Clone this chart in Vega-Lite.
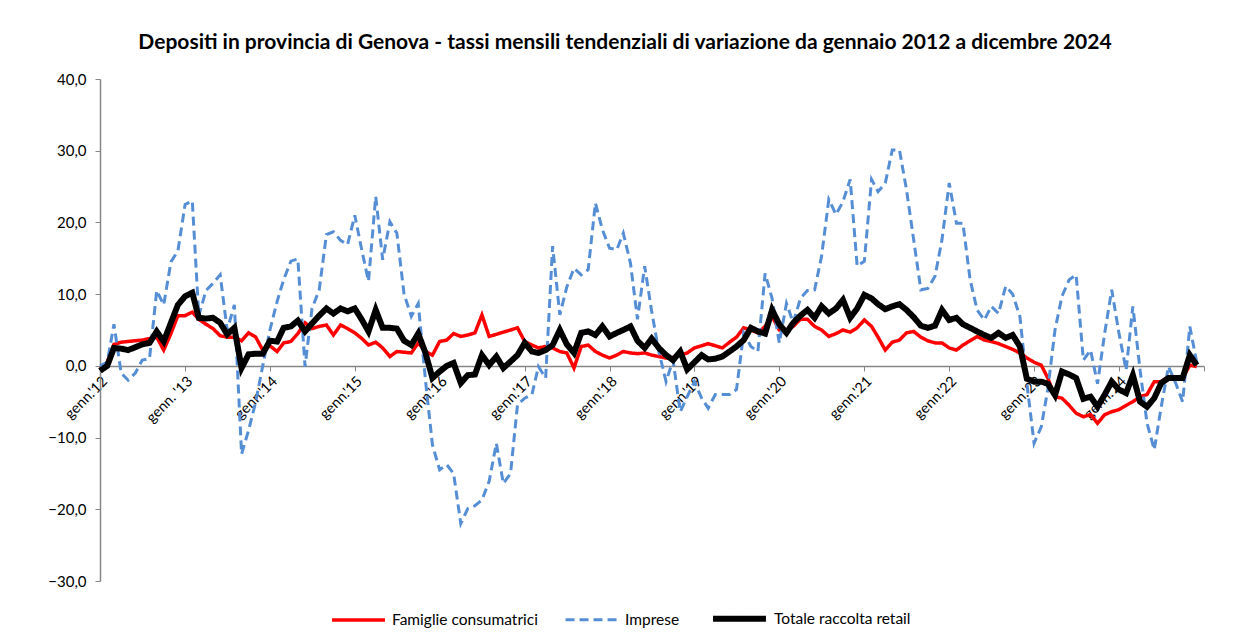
{
"$schema":"https://vega.github.io/schema/vega-lite/v6.json",
"width":1104,"height":502,
"autosize":{"type":"none"},
"padding":{"left":100,"top":79,"right":30,"bottom":61},
"background":"white",
"config":{"view":{"stroke":null},"font":"Lato"},
"title":{"text":"Depositi in provincia di Genova - tassi mensili tendenziali di variazione da gennaio 2012  a dicembre 2024","font":"Lato","fontSize":21,"fontWeight":"bold","color":"#000000","anchor":"middle","dx":-27,"offset":19},
"data":{"values":[
{"d":"2012-01-01","Famiglie consumatrici":-0.5,"Imprese":0.0,"Totale raccolta retail":-0.7},
{"d":"2012-02-01","Famiglie consumatrici":0.5,"Imprese":0.5,"Totale raccolta retail":0.0},
{"d":"2012-03-01","Famiglie consumatrici":3.0,"Imprese":5.8,"Totale raccolta retail":2.5},
{"d":"2012-04-01","Famiglie consumatrici":3.3,"Imprese":-1.0,"Totale raccolta retail":2.4},
{"d":"2012-05-01","Famiglie consumatrici":3.4,"Imprese":-2.0,"Totale raccolta retail":2.2},
{"d":"2012-06-01","Famiglie consumatrici":3.5,"Imprese":-1.0,"Totale raccolta retail":2.6},
{"d":"2012-07-01","Famiglie consumatrici":3.6,"Imprese":0.8,"Totale raccolta retail":3.0},
{"d":"2012-08-01","Famiglie consumatrici":3.8,"Imprese":1.0,"Totale raccolta retail":3.2},
{"d":"2012-09-01","Famiglie consumatrici":4.0,"Imprese":10.5,"Totale raccolta retail":4.8},
{"d":"2012-10-01","Famiglie consumatrici":2.2,"Imprese":8.5,"Totale raccolta retail":3.4},
{"d":"2012-11-01","Famiglie consumatrici":4.5,"Imprese":14.5,"Totale raccolta retail":6.0},
{"d":"2012-12-01","Famiglie consumatrici":7.0,"Imprese":16.0,"Totale raccolta retail":8.5},
{"d":"2013-01-01","Famiglie consumatrici":7.0,"Imprese":22.5,"Totale raccolta retail":9.7},
{"d":"2013-02-01","Famiglie consumatrici":7.5,"Imprese":23.0,"Totale raccolta retail":10.2},
{"d":"2013-03-01","Famiglie consumatrici":6.5,"Imprese":7.0,"Totale raccolta retail":6.7},
{"d":"2013-04-01","Famiglie consumatrici":5.8,"Imprese":10.5,"Totale raccolta retail":6.6},
{"d":"2013-05-01","Famiglie consumatrici":5.2,"Imprese":11.5,"Totale raccolta retail":6.7},
{"d":"2013-06-01","Famiglie consumatrici":4.2,"Imprese":12.7,"Totale raccolta retail":6.0},
{"d":"2013-07-01","Famiglie consumatrici":4.0,"Imprese":5.0,"Totale raccolta retail":4.4},
{"d":"2013-08-01","Famiglie consumatrici":4.0,"Imprese":8.5,"Totale raccolta retail":5.3},
{"d":"2013-09-01","Famiglie consumatrici":3.5,"Imprese":-12.3,"Totale raccolta retail":-0.3},
{"d":"2013-10-01","Famiglie consumatrici":4.6,"Imprese":-9.0,"Totale raccolta retail":1.6},
{"d":"2013-11-01","Famiglie consumatrici":4.0,"Imprese":-5.0,"Totale raccolta retail":1.7},
{"d":"2013-12-01","Famiglie consumatrici":2.2,"Imprese":0.0,"Totale raccolta retail":1.7},
{"d":"2014-01-01","Famiglie consumatrici":2.8,"Imprese":5.0,"Totale raccolta retail":3.5},
{"d":"2014-02-01","Famiglie consumatrici":2.0,"Imprese":9.0,"Totale raccolta retail":3.4},
{"d":"2014-03-01","Famiglie consumatrici":3.2,"Imprese":12.0,"Totale raccolta retail":5.3},
{"d":"2014-04-01","Famiglie consumatrici":3.4,"Imprese":14.6,"Totale raccolta retail":5.5},
{"d":"2014-05-01","Famiglie consumatrici":4.5,"Imprese":14.9,"Totale raccolta retail":6.3},
{"d":"2014-06-01","Famiglie consumatrici":6.0,"Imprese":-0.1,"Totale raccolta retail":4.8},
{"d":"2014-07-01","Famiglie consumatrici":5.2,"Imprese":8.0,"Totale raccolta retail":5.9},
{"d":"2014-08-01","Famiglie consumatrici":5.5,"Imprese":10.6,"Totale raccolta retail":7.0},
{"d":"2014-09-01","Famiglie consumatrici":5.7,"Imprese":18.3,"Totale raccolta retail":8.0},
{"d":"2014-10-01","Famiglie consumatrici":4.3,"Imprese":18.7,"Totale raccolta retail":7.3},
{"d":"2014-11-01","Famiglie consumatrici":5.7,"Imprese":17.5,"Totale raccolta retail":8.0},
{"d":"2014-12-01","Famiglie consumatrici":5.2,"Imprese":16.9,"Totale raccolta retail":7.6},
{"d":"2015-01-01","Famiglie consumatrici":4.6,"Imprese":21.0,"Totale raccolta retail":8.0},
{"d":"2015-02-01","Famiglie consumatrici":3.8,"Imprese":16.0,"Totale raccolta retail":6.4},
{"d":"2015-03-01","Famiglie consumatrici":2.9,"Imprese":11.8,"Totale raccolta retail":4.8},
{"d":"2015-04-01","Famiglie consumatrici":3.3,"Imprese":23.6,"Totale raccolta retail":7.8},
{"d":"2015-05-01","Famiglie consumatrici":2.5,"Imprese":14.8,"Totale raccolta retail":5.3},
{"d":"2015-06-01","Famiglie consumatrici":1.3,"Imprese":20.1,"Totale raccolta retail":5.3},
{"d":"2015-07-01","Famiglie consumatrici":2.0,"Imprese":18.5,"Totale raccolta retail":5.2},
{"d":"2015-08-01","Famiglie consumatrici":1.9,"Imprese":10.0,"Totale raccolta retail":3.5},
{"d":"2015-09-01","Famiglie consumatrici":1.8,"Imprese":6.9,"Totale raccolta retail":2.9},
{"d":"2015-10-01","Famiglie consumatrici":3.2,"Imprese":8.7,"Totale raccolta retail":4.5},
{"d":"2015-11-01","Famiglie consumatrici":2.0,"Imprese":-2.0,"Totale raccolta retail":1.8},
{"d":"2015-12-01","Famiglie consumatrici":1.5,"Imprese":-11.0,"Totale raccolta retail":-1.7},
{"d":"2016-01-01","Famiglie consumatrici":3.4,"Imprese":-14.5,"Totale raccolta retail":-0.8},
{"d":"2016-02-01","Famiglie consumatrici":3.6,"Imprese":-13.8,"Totale raccolta retail":0.0},
{"d":"2016-03-01","Famiglie consumatrici":4.5,"Imprese":-15.0,"Totale raccolta retail":0.4},
{"d":"2016-04-01","Famiglie consumatrici":4.1,"Imprese":-22.0,"Totale raccolta retail":-2.4},
{"d":"2016-05-01","Famiglie consumatrici":4.3,"Imprese":-19.9,"Totale raccolta retail":-1.3},
{"d":"2016-06-01","Famiglie consumatrici":4.6,"Imprese":-19.5,"Totale raccolta retail":-1.2},
{"d":"2016-07-01","Famiglie consumatrici":7.1,"Imprese":-18.7,"Totale raccolta retail":1.5},
{"d":"2016-08-01","Famiglie consumatrici":4.1,"Imprese":-16.1,"Totale raccolta retail":0.1},
{"d":"2016-09-01","Famiglie consumatrici":4.4,"Imprese":-10.8,"Totale raccolta retail":1.3},
{"d":"2016-10-01","Famiglie consumatrici":4.7,"Imprese":-16.4,"Totale raccolta retail":-0.3},
{"d":"2016-11-01","Famiglie consumatrici":5.0,"Imprese":-15.0,"Totale raccolta retail":0.6},
{"d":"2016-12-01","Famiglie consumatrici":5.3,"Imprese":-5.4,"Totale raccolta retail":1.5},
{"d":"2017-01-01","Famiglie consumatrici":3.4,"Imprese":-4.5,"Totale raccolta retail":3.2},
{"d":"2017-02-01","Famiglie consumatrici":2.9,"Imprese":-4.0,"Totale raccolta retail":2.0},
{"d":"2017-03-01","Famiglie consumatrici":2.5,"Imprese":-0.1,"Totale raccolta retail":1.8},
{"d":"2017-04-01","Famiglie consumatrici":2.7,"Imprese":-1.7,"Totale raccolta retail":2.2},
{"d":"2017-05-01","Famiglie consumatrici":2.5,"Imprese":16.7,"Totale raccolta retail":2.9},
{"d":"2017-06-01","Famiglie consumatrici":2.0,"Imprese":7.1,"Totale raccolta retail":5.0},
{"d":"2017-07-01","Famiglie consumatrici":1.8,"Imprese":11.0,"Totale raccolta retail":3.0},
{"d":"2017-08-01","Famiglie consumatrici":-0.3,"Imprese":13.6,"Totale raccolta retail":1.8},
{"d":"2017-09-01","Famiglie consumatrici":2.7,"Imprese":12.7,"Totale raccolta retail":4.6},
{"d":"2017-10-01","Famiglie consumatrici":2.9,"Imprese":13.4,"Totale raccolta retail":4.8},
{"d":"2017-11-01","Famiglie consumatrici":2.0,"Imprese":22.7,"Totale raccolta retail":4.3},
{"d":"2017-12-01","Famiglie consumatrici":1.5,"Imprese":19.0,"Totale raccolta retail":5.5},
{"d":"2018-01-01","Famiglie consumatrici":1.1,"Imprese":16.4,"Totale raccolta retail":4.1},
{"d":"2018-02-01","Famiglie consumatrici":1.5,"Imprese":16.2,"Totale raccolta retail":4.6},
{"d":"2018-03-01","Famiglie consumatrici":2.0,"Imprese":18.5,"Totale raccolta retail":5.0},
{"d":"2018-04-01","Famiglie consumatrici":1.8,"Imprese":14.3,"Totale raccolta retail":5.5},
{"d":"2018-05-01","Famiglie consumatrici":1.7,"Imprese":6.5,"Totale raccolta retail":3.5},
{"d":"2018-06-01","Famiglie consumatrici":1.8,"Imprese":13.9,"Totale raccolta retail":2.5},
{"d":"2018-07-01","Famiglie consumatrici":1.5,"Imprese":7.6,"Totale raccolta retail":3.8},
{"d":"2018-08-01","Famiglie consumatrici":1.3,"Imprese":2.0,"Totale raccolta retail":2.5},
{"d":"2018-09-01","Famiglie consumatrici":1.1,"Imprese":-2.2,"Totale raccolta retail":1.5},
{"d":"2018-10-01","Famiglie consumatrici":1.2,"Imprese":0.8,"Totale raccolta retail":0.8},
{"d":"2018-11-01","Famiglie consumatrici":1.5,"Imprese":-6.4,"Totale raccolta retail":2.0},
{"d":"2018-12-01","Famiglie consumatrici":1.8,"Imprese":-4.3,"Totale raccolta retail":-0.5},
{"d":"2019-01-01","Famiglie consumatrici":2.5,"Imprese":-2.2,"Totale raccolta retail":0.5},
{"d":"2019-02-01","Famiglie consumatrici":2.8,"Imprese":-4.5,"Totale raccolta retail":1.5},
{"d":"2019-03-01","Famiglie consumatrici":3.1,"Imprese":-5.9,"Totale raccolta retail":0.9},
{"d":"2019-04-01","Famiglie consumatrici":2.8,"Imprese":-4.0,"Totale raccolta retail":1.0},
{"d":"2019-05-01","Famiglie consumatrici":2.5,"Imprese":-4.0,"Totale raccolta retail":1.3},
{"d":"2019-06-01","Famiglie consumatrici":3.3,"Imprese":-4.0,"Totale raccolta retail":2.0},
{"d":"2019-07-01","Famiglie consumatrici":4.0,"Imprese":-3.3,"Totale raccolta retail":2.7},
{"d":"2019-08-01","Famiglie consumatrici":5.3,"Imprese":4.6,"Totale raccolta retail":3.6},
{"d":"2019-09-01","Famiglie consumatrici":5.0,"Imprese":2.7,"Totale raccolta retail":5.3},
{"d":"2019-10-01","Famiglie consumatrici":4.6,"Imprese":2.0,"Totale raccolta retail":4.8},
{"d":"2019-11-01","Famiglie consumatrici":5.5,"Imprese":12.9,"Totale raccolta retail":4.5},
{"d":"2019-12-01","Famiglie consumatrici":6.9,"Imprese":9.4,"Totale raccolta retail":7.8},
{"d":"2020-01-01","Famiglie consumatrici":5.0,"Imprese":3.2,"Totale raccolta retail":5.8},
{"d":"2020-02-01","Famiglie consumatrici":5.0,"Imprese":8.7,"Totale raccolta retail":4.6},
{"d":"2020-03-01","Famiglie consumatrici":5.5,"Imprese":6.0,"Totale raccolta retail":6.0},
{"d":"2020-04-01","Famiglie consumatrici":6.5,"Imprese":9.4,"Totale raccolta retail":7.0},
{"d":"2020-05-01","Famiglie consumatrici":6.5,"Imprese":10.5,"Totale raccolta retail":7.8},
{"d":"2020-06-01","Famiglie consumatrici":5.5,"Imprese":10.6,"Totale raccolta retail":6.7},
{"d":"2020-07-01","Famiglie consumatrici":5.0,"Imprese":15.3,"Totale raccolta retail":8.3},
{"d":"2020-08-01","Famiglie consumatrici":4.1,"Imprese":23.2,"Totale raccolta retail":7.3},
{"d":"2020-09-01","Famiglie consumatrici":4.5,"Imprese":21.1,"Totale raccolta retail":8.0},
{"d":"2020-10-01","Famiglie consumatrici":5.0,"Imprese":22.9,"Totale raccolta retail":9.2},
{"d":"2020-11-01","Famiglie consumatrici":4.7,"Imprese":26.0,"Totale raccolta retail":6.7},
{"d":"2020-12-01","Famiglie consumatrici":5.3,"Imprese":13.9,"Totale raccolta retail":8.0},
{"d":"2021-01-01","Famiglie consumatrici":6.4,"Imprese":14.6,"Totale raccolta retail":9.9},
{"d":"2021-02-01","Famiglie consumatrici":5.5,"Imprese":26.0,"Totale raccolta retail":9.4},
{"d":"2021-03-01","Famiglie consumatrici":4.0,"Imprese":24.3,"Totale raccolta retail":8.6},
{"d":"2021-04-01","Famiglie consumatrici":2.2,"Imprese":25.5,"Totale raccolta retail":7.9},
{"d":"2021-05-01","Famiglie consumatrici":3.3,"Imprese":30.1,"Totale raccolta retail":8.3},
{"d":"2021-06-01","Famiglie consumatrici":3.6,"Imprese":30.1,"Totale raccolta retail":8.6},
{"d":"2021-07-01","Famiglie consumatrici":4.6,"Imprese":24.6,"Totale raccolta retail":7.8},
{"d":"2021-08-01","Famiglie consumatrici":4.8,"Imprese":17.6,"Totale raccolta retail":6.8},
{"d":"2021-09-01","Famiglie consumatrici":4.0,"Imprese":10.6,"Totale raccolta retail":5.6},
{"d":"2021-10-01","Famiglie consumatrici":3.5,"Imprese":10.8,"Totale raccolta retail":5.3},
{"d":"2021-11-01","Famiglie consumatrici":3.2,"Imprese":12.5,"Totale raccolta retail":5.6},
{"d":"2021-12-01","Famiglie consumatrici":3.2,"Imprese":17.6,"Totale raccolta retail":7.8},
{"d":"2022-01-01","Famiglie consumatrici":2.5,"Imprese":25.5,"Totale raccolta retail":6.4},
{"d":"2022-02-01","Famiglie consumatrici":2.2,"Imprese":19.9,"Totale raccolta retail":6.7},
{"d":"2022-03-01","Famiglie consumatrici":2.9,"Imprese":19.9,"Totale raccolta retail":5.8},
{"d":"2022-04-01","Famiglie consumatrici":3.5,"Imprese":12.0,"Totale raccolta retail":5.3},
{"d":"2022-05-01","Famiglie consumatrici":4.1,"Imprese":7.8,"Totale raccolta retail":4.8},
{"d":"2022-06-01","Famiglie consumatrici":3.6,"Imprese":6.4,"Totale raccolta retail":4.3},
{"d":"2022-07-01","Famiglie consumatrici":3.4,"Imprese":8.3,"Totale raccolta retail":3.9},
{"d":"2022-08-01","Famiglie consumatrici":3.1,"Imprese":7.3,"Totale raccolta retail":4.6},
{"d":"2022-09-01","Famiglie consumatrici":2.7,"Imprese":11.1,"Totale raccolta retail":3.9},
{"d":"2022-10-01","Famiglie consumatrici":2.3,"Imprese":10.0,"Totale raccolta retail":4.3},
{"d":"2022-11-01","Famiglie consumatrici":1.8,"Imprese":6.9,"Totale raccolta retail":2.7},
{"d":"2022-12-01","Famiglie consumatrici":1.1,"Imprese":-2.4,"Totale raccolta retail":-1.8},
{"d":"2023-01-01","Famiglie consumatrici":0.5,"Imprese":-10.8,"Totale raccolta retail":-2.2},
{"d":"2023-02-01","Famiglie consumatrici":0.1,"Imprese":-8.5,"Totale raccolta retail":-2.2},
{"d":"2023-03-01","Famiglie consumatrici":-1.7,"Imprese":-3.3,"Totale raccolta retail":-2.5},
{"d":"2023-04-01","Famiglie consumatrici":-4.3,"Imprese":5.0,"Totale raccolta retail":-4.1},
{"d":"2023-05-01","Famiglie consumatrici":-4.5,"Imprese":9.7,"Totale raccolta retail":-0.8},
{"d":"2023-06-01","Famiglie consumatrici":-5.5,"Imprese":12.0,"Totale raccolta retail":-1.2},
{"d":"2023-07-01","Famiglie consumatrici":-6.6,"Imprese":12.7,"Totale raccolta retail":-1.7},
{"d":"2023-08-01","Famiglie consumatrici":-7.1,"Imprese":0.8,"Totale raccolta retail":-4.6},
{"d":"2023-09-01","Famiglie consumatrici":-6.8,"Imprese":2.2,"Totale raccolta retail":-4.3},
{"d":"2023-10-01","Famiglie consumatrici":-8.0,"Imprese":-2.5,"Totale raccolta retail":-5.7},
{"d":"2023-11-01","Famiglie consumatrici":-6.8,"Imprese":4.6,"Totale raccolta retail":-4.0},
{"d":"2023-12-01","Famiglie consumatrici":-6.4,"Imprese":10.6,"Totale raccolta retail":-2.2},
{"d":"2024-01-01","Famiglie consumatrici":-6.1,"Imprese":4.6,"Totale raccolta retail":-3.3},
{"d":"2024-02-01","Famiglie consumatrici":-5.5,"Imprese":-0.6,"Totale raccolta retail":-3.8},
{"d":"2024-03-01","Famiglie consumatrici":-5.0,"Imprese":8.3,"Totale raccolta retail":-1.3},
{"d":"2024-04-01","Famiglie consumatrici":-4.3,"Imprese":-0.6,"Totale raccolta retail":-5.0},
{"d":"2024-05-01","Famiglie consumatrici":-4.0,"Imprese":-8.0,"Totale raccolta retail":-5.7},
{"d":"2024-06-01","Famiglie consumatrici":-2.2,"Imprese":-11.7,"Totale raccolta retail":-4.5},
{"d":"2024-07-01","Famiglie consumatrici":-2.2,"Imprese":-5.7,"Totale raccolta retail":-2.4},
{"d":"2024-08-01","Famiglie consumatrici":-1.5,"Imprese":-0.1,"Totale raccolta retail":-1.7},
{"d":"2024-09-01","Famiglie consumatrici":-1.6,"Imprese":-2.4,"Totale raccolta retail":-1.7},
{"d":"2024-10-01","Famiglie consumatrici":-1.7,"Imprese":-5.0,"Totale raccolta retail":-1.7},
{"d":"2024-11-01","Famiglie consumatrici":0.1,"Imprese":5.5,"Totale raccolta retail":1.5},
{"d":"2024-12-01","Famiglie consumatrici":-0.1,"Imprese":0.4,"Totale raccolta retail":0.1}
]},
"transform":[{"fold":["Famiglie consumatrici","Imprese","Totale raccolta retail"],"as":["serie","valore"]}],
"mark":{"type":"line"},
"encoding":{
"x":{"field":"d","type":"temporal","scale":{"type":"utc","domain":[{"year":2012,"month":1,"date":1,"utc":true},{"year":2025,"month":1,"date":1,"utc":true}]},
"axis":{"title":null,"offset":-215,"grid":false,"domainColor":"#868686","domainWidth":1.5,"tickColor":"#868686","tickSize":5,
"values":[{"year":2012,"month":1,"date":1,"utc":true},{"year":2013,"month":1,"date":1,"utc":true},{"year":2014,"month":1,"date":1,"utc":true},{"year":2015,"month":1,"date":1,"utc":true},{"year":2016,"month":1,"date":1,"utc":true},{"year":2017,"month":1,"date":1,"utc":true},{"year":2018,"month":1,"date":1,"utc":true},{"year":2019,"month":1,"date":1,"utc":true},{"year":2020,"month":1,"date":1,"utc":true},{"year":2021,"month":1,"date":1,"utc":true},{"year":2022,"month":1,"date":1,"utc":true},{"year":2023,"month":1,"date":1,"utc":true},{"year":2024,"month":1,"date":1,"utc":true},{"year":2025,"month":1,"date":1,"utc":true}],
"labelExpr":"utcFormat(datum.value,'%Y')=='2025' ? '' : (utcFormat(datum.value,'%Y')=='2013' ? 'genn. \\'13' : 'genn.\\'' + utcFormat(datum.value,'%y'))",
"labelAngle":-45,"labelFont":"Lato","labelFontSize":14.5,"labelColor":"#000000","labelPadding":3,"labelOverlap":false,"labelFlush":false}},
"y":{"field":"valore","type":"quantitative","scale":{"domain":[-30,40],"nice":false,"zero":false},
"axis":{"title":null,"values":[-30,-20,-10,0,10,20,30,40],"labelExpr":"replace(format(datum.value,'.1f'),'.',',')","grid":false,"domainColor":"#868686","domainWidth":1.5,"tickColor":"#868686","tickSize":5,"labelFont":"Lato","labelFontSize":15,"labelColor":"#000000","labelPadding":9}},
"color":{"field":"serie","type":"nominal","scale":{"domain":["Famiglie consumatrici","Imprese","Totale raccolta retail"],"range":["#ff0000","#558ed5","#000000"]},
"legend":{"title":null,"orient":"none","legendX":230,"legendY":510,"direction":"horizontal","symbolType":"stroke","symbolSize":2800,"labelFont":"Lato","labelFontSize":15.5,"labelColor":"#000000","labelOffset":5,"columnPadding":21,"padding":0}},
"strokeDash":{"field":"serie","type":"nominal","scale":{"domain":["Famiglie consumatrici","Imprese","Totale raccolta retail"],"range":[[1,0],[9,5],[1,0]]},"legend":{"title":null}},
"strokeWidth":{"field":"serie","type":"nominal","scale":{"type":"ordinal","domain":["Famiglie consumatrici","Imprese","Totale raccolta retail"],"range":[3.5,3,6]},"legend":{"title":null}}
}
}
